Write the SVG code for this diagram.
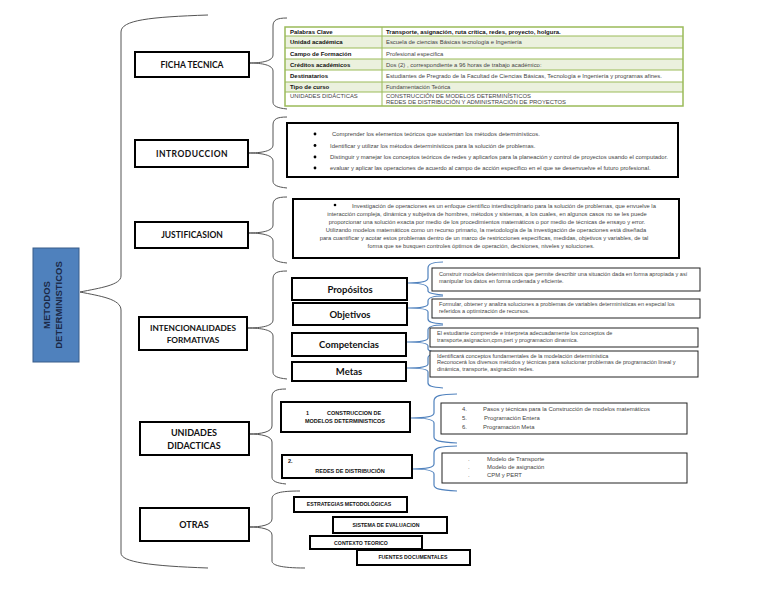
<svg xmlns="http://www.w3.org/2000/svg" width="768" height="594" viewBox="0 0 768 594">
<style>
.node{fill:#fff;stroke:#000;stroke-width:2}
.thin{fill:#fff;stroke:#222;stroke-width:1}
.lbl{font-family:Lato,"Liberation Sans",sans-serif;font-weight:bold;fill:#111;text-anchor:middle}
.sm{font-family:"Liberation Sans",Arial,sans-serif;font-size:5.9px;fill:#444}
.smb{font-family:"Liberation Sans",Arial,sans-serif;font-size:5.5px;font-weight:bold;fill:#111}
.tsb{font-size:6px}
.ds{font-size:5.55px}
.js{font-size:5.8px}
.ob{font-size:5.2px}
.ctr{text-anchor:middle}
.gb{fill:none;stroke:#555;stroke-width:1}
.bb{fill:none;stroke:#4f81bd;stroke-width:1.2}
.tb{fill:none;stroke:#9bbb59;stroke-width:1}
.sh{fill:#ebf1de}
</style>
<rect width="768" height="594" fill="#fff"/>
<g id="connectors">
<path class="gb" d="M208,15 C150,17 121,20 121,32 L121,276 C121,285 100,288 80,292 C100,296 121,299 121,310 L121,553 C121,562 150,566 208,568"/>
<path class="gb" d="M287,18 C277,18 273,20 273,26 L273,55 C273,61 262,63 249,63 C262,63 273,65 273,71 L273,102 C273,106 277,108 287,109"/>
<path class="gb" d="M287,117 C277,117 273,119 273,125 L273,145 C273,151 262,153 248,153 C262,153 273,155 273,161 L273,181 C273,185 277,187 287,188"/>
<path class="gb" d="M287,197 C277,197 273,199 273,205 L273,225 C273,231 262,233 248,233 C262,233 273,235 273,241 L273,256 C273,260 277,262 287,263"/>
<path class="gb" d="M287,271 C277,271 273,273 273,279 L273,320 C273,326 262,328 247,328 C262,328 273,330 273,336 L273,372 C273,376 277,378 287,379"/>
<path class="gb" d="M286,389 C276,389 272,391 272,397 L272,426 C272,432 261,434 249,434 C261,434 272,436 272,442 L272,477 C272,481 276,483 286,484"/>
<path class="gb" d="M300,491 C280,491 272,493 272,499 L272,519 C272,525 261,527 249,527 C261,527 272,529 272,535 L272,561 C272,565 280,568 305,568"/>
<path class="bb" d="M443,262 C432,262 428,264 428,268 L428,278 C428,282 420,283 408,283 C420,283 428,285 428,289 L428,291 C428,293 432,294 443,295"/>
<path class="bb" d="M443,296 C432,296 428,298 428,301 L428,304 C428,307 420,308 408,308 C420,308 428,309 428,312 L428,319 C428,322 432,323 443,324"/>
<path class="bb" d="M443,325 C432,325 428,327 428,330 L428,338 C428,341 420,342 407,342 C420,342 428,343 428,346 L428,349 C428,351 432,352 443,353"/>
<path class="bb" d="M443,353 C432,353 428,355 428,358 L428,364 C428,367 420,368 407,368 C420,368 428,369 428,372 L428,383 C428,386 432,387 443,388"/>
<path class="bb" d="M457,394 C440,394 434,396 434,401 L434,413 C434,417 424,418 411,418 C424,418 434,419 434,423 L434,437 C434,441 440,442 457,443"/>
<path class="bb" d="M457,446 C440,446 434,448 434,453 L434,464 C434,468 424,469 412,469 C424,469 434,470 434,474 L434,485 C434,489 440,490 457,491"/>
</g>
<g id="root">
<rect x="33" y="248" width="46" height="114" fill="#4f81bd" stroke="#385d8a" stroke-width="1"/>
<text transform="translate(50,305) rotate(-90)" font-family="'Liberation Sans',Arial,sans-serif" font-weight="bold" font-size="9.5" fill="#1c2a48" text-anchor="middle">METODOS</text>
<text transform="translate(61.5,305) rotate(-90)" font-family="'Liberation Sans',Arial,sans-serif" font-weight="bold" font-size="9.5" fill="#1c2a48" text-anchor="middle">DETERMINISTICOS</text>
</g>
<g id="ficha-tecnica"><rect class="node" x="135" y="52" width="114" height="25"/><text class="lbl" x="192" y="68" font-size="8.5">FICHA TECNICA</text></g>
<g id="introduccion"><rect class="node" x="135" y="140" width="113" height="27"/><text class="lbl" x="192" y="157" font-size="8.5" letter-spacing="0.5">INTRODUCCION</text></g>
<g id="justificasion"><rect class="node" x="135" y="222" width="113" height="26"/><text class="lbl" x="192" y="238" font-size="8.5">JUSTIFICASION</text></g>
<g id="intencionalidades"><rect class="node" x="139" y="317" width="108" height="33"/><text class="lbl" x="193" y="331" font-size="8.3">INTENCIONALIDADES</text><text class="lbl" x="193" y="343" font-size="8.3">FORMATIVAS</text></g>
<g id="unidades"><rect class="node" x="140" y="422" width="109" height="33"/><text class="lbl" x="194" y="436" font-size="9">UNIDADES</text><text class="lbl" x="194" y="449" font-size="9">DIDACTICAS</text></g>
<g id="otras"><rect class="node" x="140" y="508" width="109" height="33"/><text class="lbl" x="194" y="528" font-size="9">OTRAS</text></g>
<g id="tabla">
<rect x="285" y="27" width="398" height="79" fill="#fff"/>
<rect class="sh" x="285" y="36" width="398" height="12"/>
<rect class="sh" x="285" y="59" width="398" height="11"/>
<rect class="sh" x="285" y="82" width="398" height="10"/>
<path class="tb" d="M285,36 H683 M285,48 H683 M285,59 H683 M285,70 H683 M285,82 H683 M285,92 H683 M382,27 V106"/>
<rect x="285" y="27" width="398" height="79" fill="none" stroke="#9bbb59" stroke-width="1.5"/>
<text class="smb tsb" x="290" y="33.8">Palabras Clave</text>
<text class="smb tsb" x="386" y="33.8">Transporte, asignación, ruta crítica, redes, proyecto, holgura.</text>
<text class="smb tsb" x="290" y="44.2">Unidad académica</text>
<text class="sm" x="386" y="44.2">Escuela de ciencias Básicas tecnología e Ingeniería</text>
<text class="smb tsb" x="290" y="55.5">Campo de Formación</text>
<text class="sm" x="386" y="55.5">Profesional especifica</text>
<text class="smb tsb" x="290" y="66.5">Créditos académicos</text>
<text class="sm" x="386" y="66.5">Dos (2) , correspondiente a 96 horas de trabajo académico:</text>
<text class="smb tsb" x="290" y="78">Destinatarios</text>
<text class="sm" x="386" y="78">Estudiantes de Pregrado de la Facultad de Ciencias Básicas, Tecnología e Ingeniería y programas afines.</text>
<text class="smb tsb" x="290" y="89">Tipo de curso</text>
<text class="sm" x="386" y="89">Fundamentación Teórica</text>
<text class="sm" x="290" y="97.5">UNIDADES DIDÁCTICAS</text>
<text class="sm" x="386" y="97.5">CONSTRUCCIÓN DE MODELOS DETERMINÍSTICOS</text>
<text class="sm" x="386" y="103.5">REDES DE DISTRIBUCIÓN Y ADMINISTRACIÓN DE PROYECTOS</text>
</g>
<g id="introduccion-texto">
<rect x="287" y="123" width="391" height="54" fill="#fff" stroke="#000" stroke-width="2"/>
<g fill="#000"><circle cx="315" cy="134" r="1.4"/><circle cx="315" cy="145.5" r="1.4"/><circle cx="315" cy="157" r="1.4"/><circle cx="315" cy="168" r="1.4"/></g>
<text class="sm" x="332" y="136">Comprender los elementos teóricos que sustentan los métodos determinísticos.</text>
<text class="sm" x="330" y="147.5">Identificar y utilizar los métodos determinísticos para la solución de problemas.</text>
<text class="sm" x="330" y="159">Distinguir y manejar los conceptos teóricos de redes y aplicarlos para la planeación y control de proyectos usando el computador.</text>
<text class="sm" x="330" y="170">evaluar y aplicar las operaciones de acuerdo al campo de acción especifico en el que se desenvuelve el futuro profesional.</text>
</g>
<g id="justificasion-texto">
<rect x="293" y="199" width="386" height="59" fill="#fff" stroke="#000" stroke-width="2"/>
<circle cx="335" cy="205" r="1.3" fill="#000"/>
<text class="sm js" x="352" y="208">Investigación de operaciones es un enfoque científico interdisciplinario para la solución de problemas, que envuelve la</text>
<text class="sm js ctr" x="487" y="216">interacción compleja, dinámica y subjetiva de  hombres, métodos y sistemas, a los cuales, en algunos casos no se les puede</text>
<text class="sm js ctr" x="487" y="224">proporcionar una solución exacta por medio de los procedimientos matemáticos  o por medio de técnicas de ensayo y error.</text>
<text class="sm js ctr" x="486" y="232">Utilizando modelos matemáticos como un recurso primario, la metodología de la investigación de operaciones está diseñada</text>
<text class="sm js ctr" x="484" y="240">para cuantificar y acotar estos problemas dentro de un marco de restricciones específicas, medidas, objetivos y variables, de tal</text>
<text class="sm js ctr" x="481" y="248">forma que se busquen controles óptimos de operación, decisiones, niveles y soluciones.</text>
</g>
<g id="propositos"><rect class="node" x="292" y="278" width="115" height="22"/><text class="lbl" x="350" y="292.5" font-size="9.5">Propósitos</text></g>
<g id="objetivos"><rect class="node" x="293" y="303" width="114" height="22"/><text class="lbl" x="350" y="317.5" font-size="9.5">Objetivos</text></g>
<g id="competencias"><rect class="node" x="292" y="333" width="114" height="23"/><text class="lbl" x="349" y="348" font-size="9.5">Competencias</text></g>
<g id="metas"><rect class="node" x="292" y="362" width="114" height="19"/><text class="lbl" x="349" y="375" font-size="9.5">Metas</text></g>
<g id="propositos-texto"><rect class="thin" x="432" y="268" width="268" height="23"/>
<text class="sm ds" x="439" y="276">Construir modelos determinísticos que permite describir una situación dada en forma apropiada y así</text>
<text class="sm ds" x="439" y="283">manipular los datos en forma ordenada y eficiente.</text></g>
<g id="objetivos-texto"><rect class="thin" x="432" y="299" width="268" height="19"/>
<text class="sm ds" x="439" y="306">Formular, obtener y analiza soluciones a problemas de variables determinísticas en especial los</text>
<text class="sm ds" x="439" y="313">referidos a optimización de recursos.</text></g>
<g id="competencias-texto"><rect class="thin" x="430" y="328" width="268" height="19"/>
<text class="sm ds" x="437" y="335">El estudiante comprende e interpreta adecuadamente los conceptos de</text>
<text class="sm ds" x="437" y="342">transporte,asignacion,cpm,pert y programacion dinamica.</text></g>
<g id="metas-texto"><rect class="thin" x="430" y="351" width="268" height="26"/>
<text class="sm ds" x="437" y="357.5">Identificará conceptos fundamentales de la modelación determinística</text>
<text class="sm ds" x="437" y="364">Reconocerá los diversos métodos y técnicas para solucionar problemas de programación lineal y</text>
<text class="sm ds" x="437" y="371">dinámica, transporte, asignación redes.</text></g>
<g id="unidad-1"><rect class="node" x="281" y="402" width="129" height="30"/>
<text class="smb" x="306" y="415">1</text><text class="smb" x="327" y="415">CONSTRUCCION DE</text>
<text class="smb ctr" x="345" y="423">MODELOS DETERMINISTICOS</text></g>
<g id="unidad-2"><rect class="node" x="282" y="455" width="130" height="23"/>
<text class="smb" x="288" y="463">2.</text><text class="smb ctr" x="350" y="473">REDES DE DISTRIBUCIÓN</text></g>
<g id="unidad-1-texto"><rect class="thin" x="441" y="403" width="246" height="31"/>
<text class="sm" x="462" y="411" font-size="5.8">4.</text><text class="sm" x="483" y="411" font-size="5.8">Pasos y técnicas para la Construcción de modelos matemáticos</text>
<text class="sm" x="462" y="420" font-size="5.8">5.</text><text class="sm" x="484" y="420" font-size="5.8">Programación Entera</text>
<text class="sm" x="462" y="429" font-size="5.8">6.</text><text class="sm" x="483" y="429" font-size="5.8">Programación Meta</text></g>
<g id="unidad-2-texto"><rect class="thin" x="442" y="453" width="245" height="30"/>
<text class="sm" x="468" y="461" font-size="5.8">.</text><text class="sm" x="487" y="461" font-size="5.8">Modelo de Transporte</text>
<text class="sm" x="468" y="469" font-size="5.8">.</text><text class="sm" x="487" y="469" font-size="5.8">Modelo de asignación</text>
<text class="sm" x="468" y="477" font-size="5.8">.</text><text class="sm" x="487" y="477" font-size="5.8">CPM y PERT</text></g>
<g id="estrategias"><rect class="node" x="294" y="497" width="113" height="15"/><text class="smb ob ctr" x="349" y="506">ESTRATEGIAS METODOLÓGICAS</text></g>
<g id="sistema"><rect class="node" x="333" y="517" width="114" height="16"/><text class="smb ob ctr" x="386" y="527">SISTEMA DE EVALUACION</text></g>
<g id="contexto"><rect class="node" x="310" y="536" width="112" height="13"/><text class="smb ob ctr" x="361" y="544.5">CONTEXTO TEORICO</text></g>
<g id="fuentes"><rect class="node" x="357" y="550" width="113" height="15"/><text class="smb ob ctr" x="413" y="559">FUENTES DOCUMENTALES</text></g>
</svg>
